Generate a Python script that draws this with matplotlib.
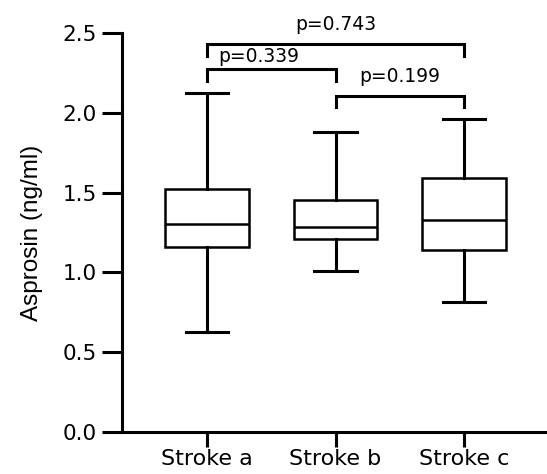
import matplotlib
matplotlib.use("Agg")
import matplotlib.pyplot as plt

# ---- data ----
groups = ["Stroke a", "Stroke b", "Stroke c"]
whisker_low = [0.625, 1.011, 0.816]
q1 = [1.159, 1.211, 1.138]
median = [1.303, 1.282, 1.328]
q3 = [1.523, 1.454, 1.593]
whisker_high = [2.126, 1.878, 1.961]

comparisons = [(0, 1), (1, 2), (0, 2)]
p_labels = ["p=0.339", "p=0.199", "p=0.743"]
bracket_top = [2.272, 2.107, 2.429]

y_ticks = [0.0, 0.5, 1.0, 1.5, 2.0, 2.5]
y_label = "Asprosin (ng/ml)"

# ---- figure ----
fig = plt.figure(figsize=(5.47, 4.74), dpi=100)
ax = fig.add_axes([122 / 547, 42 / 474, 1 - 122 / 547, (432 - 33) / 474])

stats = []
for i, g in enumerate(groups):
    stats.append(dict(label=g, whislo=whisker_low[i], q1=q1[i], med=median[i],
                      q3=q3[i], whishi=whisker_high[i], fliers=[]))

lw_box = 1.8
ax.bxp(stats, positions=range(len(groups)), widths=0.65, capwidths=0.33,
       showfliers=False, patch_artist=True,
       boxprops=dict(facecolor="white", edgecolor="black", linewidth=lw_box),
       medianprops=dict(color="black", linewidth=lw_box),
       whiskerprops=dict(color="black", linewidth=2.2),
       capprops=dict(color="black", linewidth=2.2))

# significance brackets
leg = 0.072
text_offsets = [(-0.10, 0.079), (0.0, 0.123), (0.0, 0.127)]
for (a, b), lab, top, (dx, dy) in zip(comparisons, p_labels, bracket_top, text_offsets):
    ax.plot([a, a, b, b], [top - leg, top, top, top - leg], color="black",
            linewidth=2.2, solid_joinstyle="miter", clip_on=False)
    ax.text((a + b) / 2 + dx, top + dy, lab, ha="center", va="center",
            fontsize=13.5, family="DejaVu Sans", clip_on=False)

ax.set_xlim(-0.661, 2.645)
ax.set_ylim(0, 2.5)
ax.set_yticks(y_ticks)
ax.set_yticklabels([f"{v:.1f}" for v in y_ticks], fontsize=15.5, family="DejaVu Sans")
ax.set_xticks(range(len(groups)))
ax.set_xticklabels(groups, fontsize=16, family="DejaVu Sans")

for s in ["top", "right"]:
    ax.spines[s].set_visible(False)
for s in ["left", "bottom"]:
    ax.spines[s].set_linewidth(2.2)

ax.tick_params(axis="y", length=14.5, width=2.2, pad=3.5)
ax.tick_params(axis="x", length=10.5, width=2.2, pad=1.5)

ax.set_ylabel(y_label, fontsize=17.5, family=["Liberation Sans Narrow", "Liberation Sans"],
              labelpad=14)

fig.savefig("out.png", dpi=100)
